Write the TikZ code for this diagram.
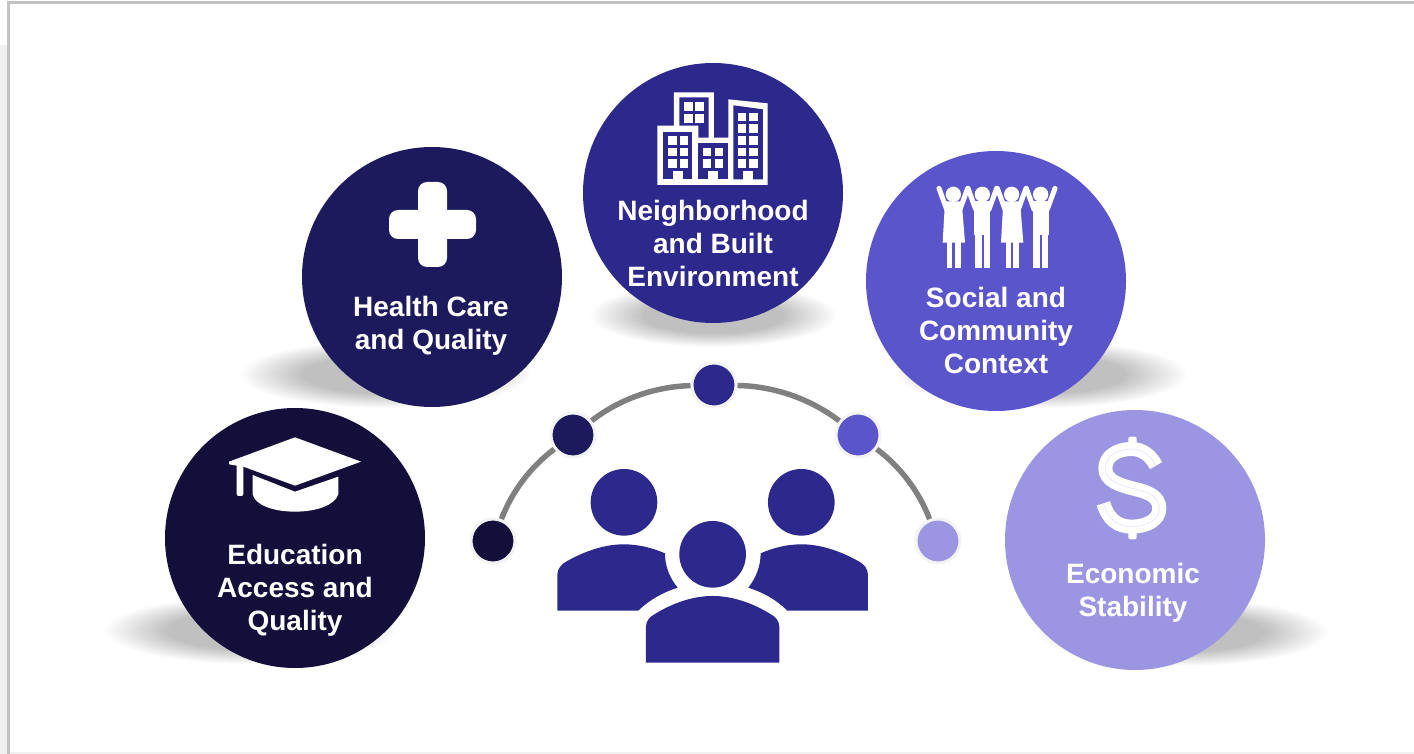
\documentclass[tikz,border=0pt]{standalone}
\usepackage{fontspec}
\setmainfont{Liberation Sans}
\usetikzlibrary{shapes}
\usetikzlibrary{calc}

\definecolor{eduColor}{HTML}{130F3A}
\definecolor{careColor}{HTML}{1C1A5C}
\definecolor{hoodColor}{HTML}{2D288C}
\definecolor{socialColor}{HTML}{5B55CC}
\definecolor{moneyColor}{HTML}{9B95E2}
\definecolor{haloColor}{HTML}{F3F3F5}
\definecolor{frameColor}{HTML}{C2C2C2}
\definecolor{stripColor}{HTML}{F0F0F0}
\definecolor{shadowColor}{HTML}{C0C0C0}

\pgfdeclareradialshading{softshadow}{\pgfpoint{0bp}{0bp}}{%
  color(0bp)=(shadowColor); color(14bp)=(shadowColor);
  color(25bp)=(white); color(50bp)=(white)}

\newcommand{\dollarcurve}{(228, 122) .. controls (212, 90) and (185, 72) .. (155, 72)
      .. controls (105, 72) and (76, 98) .. (76, 130) .. controls (76, 168) and (120, 180) .. (157, 190)
      .. controls (200, 200) and (238, 212) .. (238, 250) .. controls (238, 285) and (200, 305) .. (155, 305)
      .. controls (115, 305) and (85, 285) .. (70, 235)}

\tikzset{
  bigcircle/.style={circle, minimum size=260pt, inner sep=0pt, fill=#1},
  dotnode/.style={circle, minimum size=44pt, inner sep=0pt, draw=haloColor, line width=3pt, fill=#1},
  caption/.style={text=white, align=center, font=\bfseries\fontsize{28}{33}\selectfont},
  arcline/.style={draw=gray, line width=5.5pt, looseness=0.87},
  softspot/.style={shading=softshadow}
}

\begin{document}
\begin{tikzpicture}[x=1pt, y=-1pt]
  \useasboundingbox (0, 0) rectangle (1414, 754);

  % frame
  \fill[stripColor] (0, 45) rectangle (8, 754);
  \draw[frameColor, line width=3pt] (8.5, 754) -- (8.5, 3) -- (1414, 3);
  \draw[stripColor, line width=2pt] (10, 753) -- (1414, 753);

  % shadows
  \foreach \cx/\cy/\rx/\ry in {250/630/146/34, 385/374/146/34, 713/315/124/32, 1042/374/146/34, 1182/632/146/34} {
    \shade[softspot] (\cx, \cy) ellipse (\rx pt and \ry pt);
  }

  \node[bigcircle=eduColor] (edu) at (295, 538) {};
  \node[bigcircle=careColor] (care) at (432, 277) {};
  \node[bigcircle=hoodColor] (hood) at (713, 193) {};
  \node[bigcircle=socialColor] (social) at (996, 281) {};
  \node[bigcircle=moneyColor] (money) at (1135, 540) {};

  \node[caption] (eduText) at (295, 590) {Education\\Access and\\Quality};
  \node[caption] (careText) at (431, 326) {Health Care\\and Quality};
  \node[caption] (hoodText) at (713, 243.5) {Neighborhood\\and Built\\Environment};
  \node[caption] (socialText) at (996, 330) {Social and\\Community\\Context};
  \node[caption] (moneyText) at (1133, 593) {Economic\\Stability};

  % dots on the arc
  \node[dotnode=eduColor] (dotEdu) at (493, 541) {};
  \node[dotnode=careColor] (dotCare) at (573, 435) {};
  \node[dotnode=hoodColor] (dotHood) at (714, 385) {};
  \node[dotnode=socialColor] (dotSocial) at (858, 435) {};
  \node[dotnode=moneyColor] (dotMoney) at (938, 541) {};

  \draw[arcline] (dotEdu) to[bend left=16] (dotCare);
  \draw[arcline] (dotCare) to[bend left=18] (dotHood);
  \draw[arcline] (dotHood) to[bend left=18] (dotSocial);
  \draw[arcline] (dotSocial) to[bend left=16] (dotMoney);

  % three people
  \begin{scope}[shift={(460, 360)}, scale=0.3333]
    \fill[hoodColor] (492, 427) circle (100);
    \fill[hoodColor] (1024, 427) circle (100);
    \fill[hoodColor] (758, 583) circle (100);
    \fill[hoodColor] (292, 752) -- (292, 645) .. controls (292, 625) and (305, 612) .. (320, 604)
      .. controls (380, 570) and (440, 553) .. (490, 553) .. controls (535, 553) and (575, 563) .. (615, 580)
      .. controls (615, 620) and (630, 655) .. (653, 683) .. controls (610, 697) and (570, 718) .. (535, 752) -- cycle;
    \fill[hoodColor] (1224, 752) -- (1224, 645) .. controls (1224, 625) and (1211, 612) .. (1196, 604)
      .. controls (1136, 570) and (1076, 553) .. (1026, 553) .. controls (981, 553) and (941, 563) .. (902, 580)
      .. controls (902, 620) and (887, 655) .. (865, 683) .. controls (908, 697) and (948, 718) .. (982, 752) -- cycle;
    \fill[hoodColor] (558, 908) -- (558, 800) .. controls (558, 782) and (570, 770) .. (585, 762)
      .. controls (645, 725) and (705, 708) .. (758, 708) .. controls (811, 708) and (871, 725) .. (931, 762)
      .. controls (946, 770) and (958, 782) .. (958, 800) -- (958, 908) -- cycle;
  \end{scope}

  % plus
  \fill[white, rounded corners=9pt] (418, 182) rectangle (447, 267);
  \fill[white, rounded corners=9pt] (389, 210) rectangle (476, 239);

  % graduation cap
  \begin{scope}[shift={(210, 425)}, scale=0.3333]
    \fill[white] (57, 110) -- (255, 37) -- (453, 110) -- (255, 182) -- (100, 125) -- (57, 118) -- cycle;
    \fill[white, rounded corners=2pt] (80, 115) rectangle (100, 213);
    \fill[white] (128, 150) -- (255, 200) -- (385, 155) -- (385, 208)
      .. controls (375, 240) and (320, 260) .. (255, 260) .. controls (190, 260) and (135, 240) .. (128, 208) -- cycle;
  \end{scope}

  % buildings
  \begin{scope}[shift={(600, 70)}, scale=0.3333]
    \fill[white] (172, 345) -- (172, 167) -- (222, 167) -- (222, 67) -- (342, 67) -- (342, 203) -- (385, 203)
      -- (385, 88) -- (503, 100) -- (503, 345) -- cycle;
    \fill[hoodColor] (190, 328) -- (190, 185) -- (277, 185) -- (277, 328) -- cycle;
    \fill[hoodColor] (238, 167) -- (238, 82) -- (326, 82) -- (326, 203) -- (295, 203) -- (295, 167) -- cycle;
    \fill[hoodColor] (295, 328) -- (295, 218) -- (384, 218) -- (384, 328) -- cycle;
    \fill[hoodColor] (400, 328) -- (400, 106) -- (489, 118) -- (489, 328) -- cycle;
    \foreach \x in {252, 286} {
      \foreach \y in {97, 132} {
        \fill[white] (\x, \y) rectangle +(27, 27);
      }
    }
    \foreach \x in {204, 239} {
      \foreach \y in {198, 233, 268} {
        \fill[white] (\x, \y) rectangle +(26, 26);
      }
    }
    \foreach \x in {308, 344} {
      \foreach \y in {233, 268} {
        \fill[white] (\x, \y) rectangle +(26, 26);
      }
    }
    \foreach \x in {413, 448} {
      \foreach \y in {128, 163, 198, 233, 268} {
        \fill[white] (\x, \y) rectangle +(26, 26);
      }
    }
    \foreach \x in {220, 325, 430} {
      \fill[white] (\x, 302) rectangle +(28, 28);
    }
  \end{scope}

  % people holding hands
  \begin{scope}[shift={(920, 170)}, scale=0.3333]
    \foreach \c in {100, 187, 275, 362} {
      \fill[white] (\c, 73) circle (23);
      \draw[white, line width=5pt, line cap=round] (\c-43, 55) -- (\c-20, 118);
      \draw[white, line width=5pt, line cap=round] (\c+43, 55) -- (\c+20, 118);
    }
    \foreach \c in {100, 275} {
      \fill[white] (\c-25, 94) -- (\c+25, 94) -- (\c+35, 218) -- (\c-32, 218) -- cycle;
      \fill[white] (\c-18, 215) rectangle (\c-3, 295);
      \fill[white] (\c+5, 215) rectangle (\c+22, 295);
    }
    \foreach \c in {187, 362} {
      \fill[white] (\c-24, 94) rectangle (\c+24, 195);
      \fill[white] (\c-22, 190) rectangle (\c-2, 295);
      \fill[white] (\c+5, 190) rectangle (\c+23, 295);
    }
  \end{scope}

  % dollar sign
  \begin{scope}[shift={(1080, 425)}, scale=0.3333]
    \fill[white, rounded corners=2pt] (145, 35) rectangle (170, 75);
    \fill[white, rounded corners=2pt] (145, 300) rectangle (170, 343);
    \draw[white, line width=14pt] \dollarcurve;
    \draw[moneyColor!30!white, line width=0.5pt] \dollarcurve;
  \end{scope}
\end{tikzpicture}
\end{document}
